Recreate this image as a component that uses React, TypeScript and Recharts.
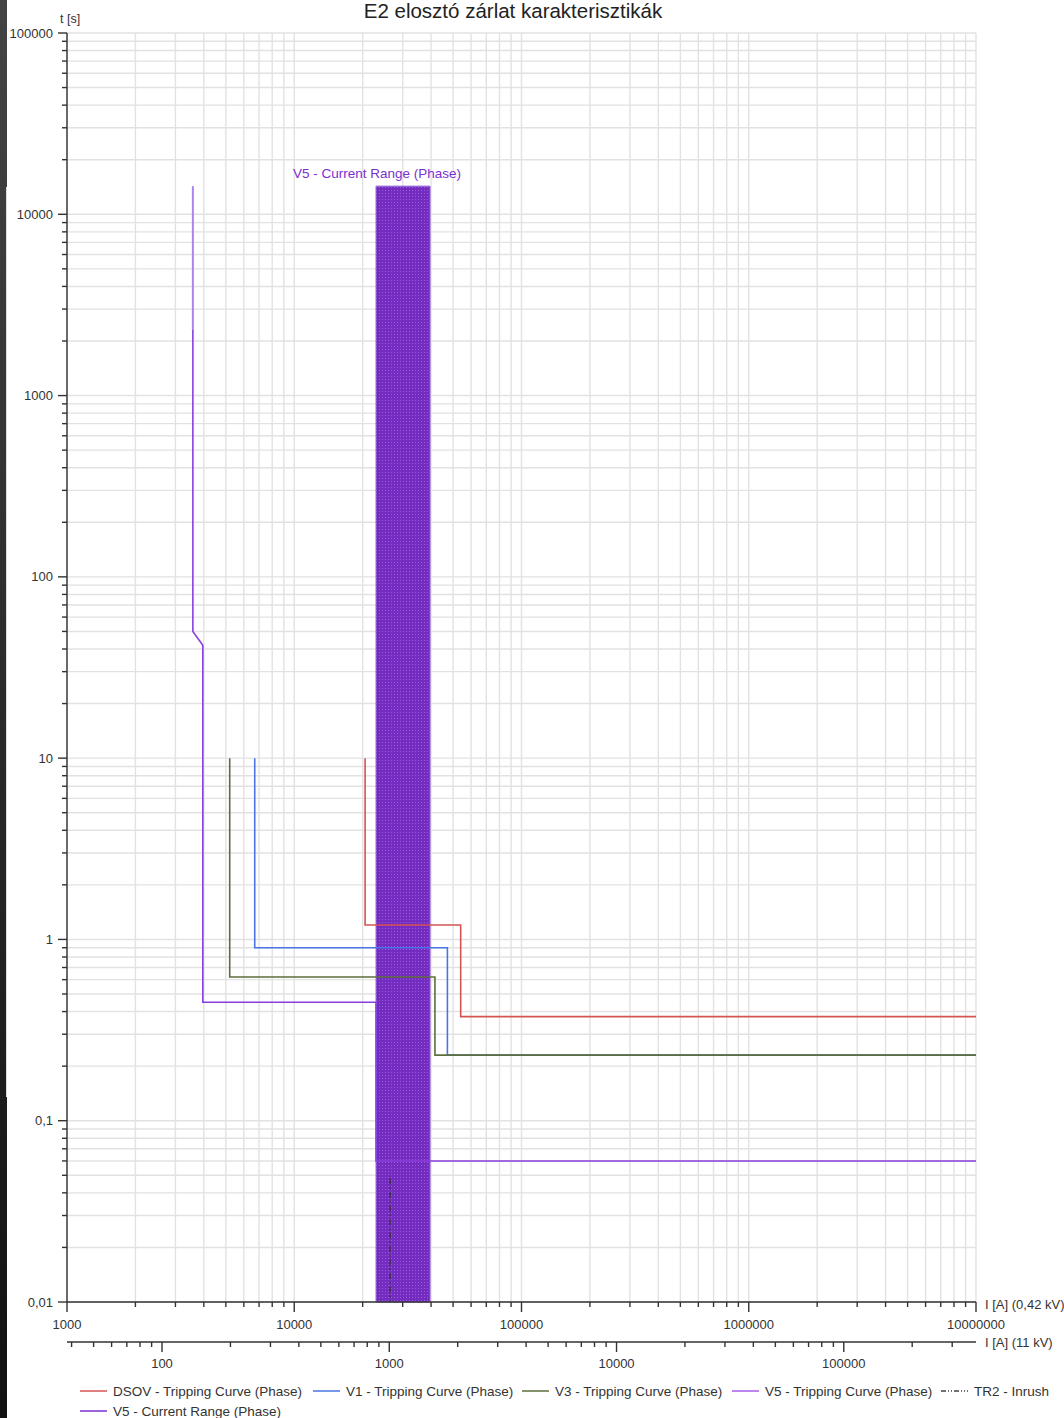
import React from "react";
import { ComposedChart, Line, XAxis, YAxis, CartesianGrid, ReferenceArea } from "recharts";

// I [A] at 0.42 kV  ->  I [A] at 11 kV
const KV_RATIO = 0.42 / 11;

const xDecades = [1000, 10000, 100000, 1000000, 10000000];
const xLabels = ["1000", "10000", "100000", "1000000", "10000000"];
const hvDecades = [10, 100, 1000, 10000, 100000];
const hvLabels = ["10", "100", "1000", "10000", "100000"];
const yDecades = [0.01, 0.1, 1, 10, 100, 1000, 10000, 100000];
const yLabels = ["0,01", "0,1", "1", "10", "100", "1000", "10000", "100000"];

// tripping curves, i = current [A] (0.42 kV), t = time [s]
const dsov = [
  { i: 20500, t: 10 },
  { i: 20500, t: 1.2 },
  { i: 54000, t: 1.2 },
  { i: 54000, t: 0.375 },
  { i: 10000000, t: 0.375 },
];
const v1 = [
  { i: 6700, t: 10 },
  { i: 6700, t: 0.9 },
  { i: 47200, t: 0.9 },
  { i: 47200, t: 0.23 },
  { i: 10000000, t: 0.23 },
];
const v3 = [
  { i: 5200, t: 10 },
  { i: 5200, t: 0.62 },
  { i: 41600, t: 0.62 },
  { i: 41600, t: 0.23 },
  { i: 10000000, t: 0.23 },
];
const v5Upper = [
  { i: 3580, t: 14300 },
  { i: 3580, t: 2300 },
];
const v5 = [
  { i: 3580, t: 2300 },
  { i: 3580, t: 50 },
  { i: 3960, t: 42 },
  { i: 3960, t: 0.45 },
  { i: 22900, t: 0.45 },
  { i: 22900, t: 0.06 },
  { i: 10000000, t: 0.06 },
];
const tr2 = [
  { i: 26400, t: 0.048 },
  { i: 26400, t: 0.01 },
];
// V5 current range band
const bandI = [22900, 39600];
const bandT = [0.01, 14300];

const legendNames = [
  "DSOV - Tripping Curve (Phase)",
  "V1 - Tripping Curve (Phase)",
  "V3 - Tripping Curve (Phase)",
  "V5 - Tripping Curve (Phase)",
  "TR2 - Inrush",
  "V5 - Current Range (Phase)",
];
const legendColors = ["#d45454", "#4a74e4", "#5d6e3e", "#a65ee8", "#444444", "#7a2fd0"];

const FONT = "'Liberation Sans', Arial, sans-serif";
const TXT = "#333";

const isDecade = (v: number) => Math.abs(Math.log10(v) - Math.round(Math.log10(v))) < 1e-6;

function logTicks(decades: number[], lo: number, hi: number) {
  const out: number[] = [];
  decades.forEach((d) => {
    for (let m = 1; m < 10; m++) {
      const v = d * m;
      if (v >= lo * 0.9999 && v <= hi * 1.0001) out.push(v);
    }
  });
  return out;
}

const xDomain = [1000, 10000000];
const hvDomain = [1000 * KV_RATIO, 10000000 * KV_RATIO];
const yDomain = [0.01, 100000];
const xTicks = logTicks(xDecades, xDomain[0], xDomain[1]);
const hvTicks = logTicks(hvDecades, hvDomain[0], hvDomain[1]);
const yTicks = logTicks(yDecades, yDomain[0], yDomain[1]);
// the same range expressed on the 11 kV axis, so that axis has something to scale
const hvSpan = [
  { i: hvDomain[0], t: 1 },
  { i: hvDomain[1], t: 1 },
];

const xLabelMap = new Map(xDecades.map((d, k) => [d, xLabels[k]]));
const hvLabelMap = new Map(hvDecades.map((d, k) => [d, hvLabels[k]]));
const yLabelMap = new Map(yDecades.map((d, k) => [d, yLabels[k]]));

function BottomTick(props: any) {
  const { x, y, payload, labels, dy } = props;
  const v = payload.value;
  const major = isDecade(v);
  const label = major ? labels.get(v) : null;
  return (
    <g>
      <line x1={x} x2={x} y1={y} y2={y + (major ? 10 : 5)} stroke={TXT} strokeWidth={1.4} />
      {label && (
        <text x={x} y={y + dy} textAnchor="middle" fontSize={13} fontFamily={FONT} fill={TXT}>
          {label}
        </text>
      )}
    </g>
  );
}

function LeftTick(props: any) {
  const { x, y, payload } = props;
  const v = payload.value;
  const major = isDecade(v);
  const label = major ? yLabelMap.get(v) : null;
  return (
    <g>
      <line x1={x - (major ? 9 : 5)} x2={x} y1={y} y2={y} stroke={TXT} strokeWidth={1.4} />
      {label && (
        <text x={x - 14} y={y + 4.5} textAnchor="end" fontSize={13} fontFamily={FONT} fill={TXT}>
          {label}
        </text>
      )}
    </g>
  );
}

function BandLabel(props: any) {
  const { viewBox } = props;
  return (
    <text x={viewBox.x + 1} y={viewBox.y - 8} textAnchor="middle" fontSize={13.5} fontFamily={FONT} fill="#7a2fd0">
      V5 - Current Range (Phase)
    </text>
  );
}

const legendRows = [
  [0, 1, 2, 3, 4],
  [5],
];
const legendX = [[80, 313, 522, 732, 941], [80]];
const legendY = [1391, 1411];

export default function App() {
  return (
    <div style={{ position: "absolute", left: 0, top: 0, width: 1064, height: 1418, background: "#fff" }}>
      <div
        style={{
          position: "absolute",
          left: 0,
          top: 0,
          width: 7,
          height: 1418,
          background: "linear-gradient(#444 0%, #2a2a2a 50%, #111 100%)",
        }}
      />
      <div style={{ position: "absolute", left: 6, top: 187, width: 1, height: 910, background: "#ddd" }} />
      <ComposedChart width={1064} height={1418} margin={{ top: 33, right: 88, left: 0, bottom: 36 }}>
        <defs>
          <pattern id="bandDots" width="3" height="3" patternUnits="userSpaceOnUse">
            <rect width="3" height="3" fill="#6c20bd" />
            <rect x="1" y="1" width="1" height="1" fill="#8f54d8" />
          </pattern>
        </defs>
        <CartesianGrid xAxisId="a" stroke="#e2e2e2" strokeWidth={1.4} />
        <XAxis
          xAxisId="a"
          dataKey="i"
          type="number"
          scale="log"
          domain={xDomain}
          allowDataOverflow
          ticks={xTicks}
          interval={0}
          height={40}
          tickSize={0}
          tickMargin={0}
          tickLine={false}
          axisLine={{ stroke: TXT, strokeWidth: 1.4 }}
          tick={(p: any) => <BottomTick {...p} labels={xLabelMap} dy={26.5} />}
        />
        <XAxis
          xAxisId="b"
          dataKey="i"
          type="number"
          scale="log"
          domain={hvDomain}
          allowDataOverflow
          ticks={hvTicks}
          interval={0}
          height={40}
          tickSize={0}
          tickMargin={0}
          tickLine={false}
          axisLine={{ stroke: TXT, strokeWidth: 1.4 }}
          tick={(p: any) => <BottomTick {...p} labels={hvLabelMap} dy={25.5} />}
        />
        <YAxis
          type="number"
          scale="log"
          domain={yDomain}
          allowDataOverflow
          ticks={yTicks}
          interval={0}
          width={67}
          tickSize={0}
          tickMargin={0}
          tickLine={false}
          axisLine={{ stroke: TXT, strokeWidth: 1.4 }}
          tick={(p: any) => <LeftTick {...p} />}
        />
        <ReferenceArea
          xAxisId="a"
          x1={bandI[0]}
          x2={bandI[1]}
          y1={bandT[0]}
          y2={bandT[1]}
          fill="url(#bandDots)"
          fillOpacity={0.95}
          stroke="#9466d8"
          strokeWidth={1}
          label={(p: any) => <BandLabel {...p} />}
        />
        <Line xAxisId="b" data={hvSpan} dataKey="t" stroke="none" dot={false} legendType="none" isAnimationActive={false} />
        <Line xAxisId="a" data={v5Upper} dataKey="t" stroke="#ad84ea" strokeWidth={2} dot={false} isAnimationActive={false} />
        <Line xAxisId="a" data={v5} dataKey="t" stroke="#8a3fdd" strokeWidth={1.6} dot={false} isAnimationActive={false} />
        <Line xAxisId="a" data={tr2} dataKey="t" stroke="#333" strokeWidth={1.3} strokeDasharray="6 3 1.5 3" dot={false} isAnimationActive={false} />
        <Line xAxisId="a" data={v1} dataKey="t" stroke={legendColors[1]} strokeWidth={1.6} dot={false} isAnimationActive={false} />
        <Line xAxisId="a" data={v3} dataKey="t" stroke={legendColors[2]} strokeWidth={1.6} dot={false} isAnimationActive={false} />
        <Line xAxisId="a" data={dsov} dataKey="t" stroke={legendColors[0]} strokeWidth={1.6} dot={false} isAnimationActive={false} />
      </ComposedChart>
      <svg
        width={1064}
        height={1418}
        style={{ position: "absolute", left: 0, top: 0, pointerEvents: "none", overflow: "hidden" }}
      >
        <text x={513} y={18} textAnchor="middle" fontSize={20.5} fontFamily={FONT} fill="#222">
          E2 elosztó zárlat karakterisztikák
        </text>
        <text x={60} y={23} fontSize={12.5} fontFamily={FONT} fill={TXT}>
          t [s]
        </text>
        <text x={985} y={1308.5} fontSize={13} fontFamily={FONT} fill={TXT}>
          I [A] (0,42 kV)
        </text>
        <text x={985} y={1346.5} fontSize={13} fontFamily={FONT} fill={TXT}>
          I [A] (11 kV)
        </text>
        {legendRows.map((row, r) =>
          row.map((k, c) => {
            const x0 = legendX[r][c];
            const y0 = legendY[r];
            return (
              <g key={k}>
                <line
                  x1={x0}
                  x2={x0 + 27}
                  y1={y0}
                  y2={y0}
                  stroke={legendColors[k]}
                  strokeWidth={1.5}
                  strokeDasharray={k === 4 ? "5 2 1 2 1 2" : undefined}
                />
                <text x={x0 + 33} y={y0 + 4.5} fontSize={13.5} fontFamily={FONT} fill={TXT}>
                  {legendNames[k]}
                </text>
              </g>
            );
          })
        )}
      </svg>
    </div>
  );
}
